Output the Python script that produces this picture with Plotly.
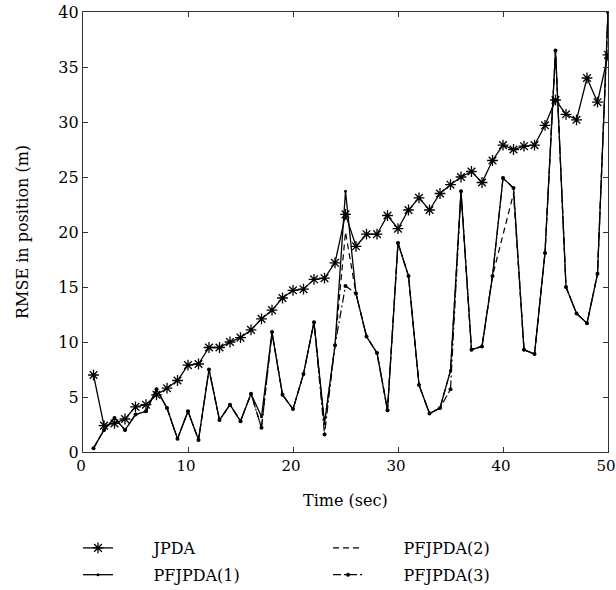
import plotly.graph_objects as go

time = list(range(1, 51))
jpda = [7.0, 2.4, 2.6, 3.0, 4.1, 4.3, 5.2, 5.8, 6.5, 7.9,
        8.0, 9.5, 9.5, 10.0, 10.4, 11.1, 12.1, 12.9, 14.0, 14.7,
        14.8, 15.7, 15.8, 17.2, 21.6, 18.7, 19.8, 19.8, 21.5, 20.3,
        22.0, 23.1, 22.0, 23.5, 24.3, 25.0, 25.5, 24.5, 26.5, 27.9,
        27.5, 27.8, 27.9, 29.7, 32.0, 30.7, 30.2, 34.0, 31.8, 36.1]
pf1 = [0.35, 2.0, 3.1, 2.0, 3.4, 3.7, 5.7, 4.0, 1.2, 3.7,
       1.1, 7.5, 2.9, 4.3, 2.8, 5.3, 3.2, 10.9, 5.2, 3.9,
       7.1, 11.8, 2.6, 9.7, 23.7, 14.4, 10.5, 9.0, 3.8, 19.0,
       16.0, 6.1, 3.5, 4.0, 7.4, 23.7, 9.3, 9.6, 16.0, 24.9,
       24.0, 9.3, 8.9, 18.1, 36.5, 15.0, 12.6, 11.7, 16.2, 40.0]
pf2 = [0.35, 2.0, 3.1, 2.0, 3.4, 3.7, 5.7, 4.0, 1.2, 3.7,
       1.1, 7.5, 2.9, 4.3, 2.8, 5.3, 2.2, 10.9, 5.2, 3.9,
       7.1, 11.8, 2.6, 9.7, 20.0, 14.4, 10.5, 9.0, 3.8, 19.0,
       16.0, 6.1, 3.5, 4.0, 7.4, 23.7, 9.3, 9.6, 16.0, 19.8,
       23.5, 9.3, 8.9, 18.1, 36.5, 15.0, 12.6, 11.7, 16.2, 40.0]
pf3 = [0.35, 2.0, 3.1, 2.0, 3.4, 3.7, 5.7, 4.0, 1.2, 3.7,
       1.1, 7.5, 2.9, 4.3, 2.8, 5.3, 2.2, 10.9, 5.2, 3.9,
       7.1, 11.8, 1.6, 9.7, 15.1, 14.4, 10.5, 9.0, 3.8, 19.0,
       16.0, 6.1, 3.5, 4.0, 5.7, 23.7, 9.3, 9.6, 16.0, 24.9,
       24.0, 9.3, 8.9, 18.1, 36.5, 15.0, 12.6, 11.7, 16.2, 40.0]
x_title = "Time (sec)"
y_title = "RMSE in position (m)"

FONT = "DejaVu Serif"
PAD = "\u00a0" * 7
fig = go.Figure()
fig.add_trace(go.Scatter(x=time, y=pf2, mode="lines", name=PAD + "PFJPDA(2)",
                         line=dict(color="black", width=1.2, dash="6px,4px"),
                         legend="legend2", legendgroup="a", legendrank=1))
fig.add_trace(go.Scatter(x=time, y=pf3, mode="lines+markers", name=PAD + "PFJPDA(3)",
                         line=dict(color="black", width=1.2, dash="8px,3px,2px,3px"),
                         marker=dict(size=4, color="black"),
                         legend="legend2", legendgroup="b", legendrank=2))
fig.add_trace(go.Scatter(x=time, y=pf1, mode="lines+markers", name=PAD + "PFJPDA(1)",
                         line=dict(color="black", width=1.3),
                         marker=dict(size=3, color="black"),
                         legend="legend", legendgroup="c", legendrank=2))
fig.add_trace(go.Scatter(x=time, y=jpda, mode="lines+markers", name=PAD + "JPDA",
                         line=dict(color="black", width=1.3),
                         marker=dict(symbol="asterisk-open", size=9,
                                     line=dict(color="black", width=1.3)),
                         legend="legend", legendgroup="d", legendrank=1))

axis_common = dict(showline=True, linecolor="#333", linewidth=1.2, mirror="ticks",
                   ticks="inside", ticklen=5, tickcolor="#333", showgrid=False,
                   zeroline=False, automargin=False)
fig.update_xaxes(range=[0, 50], tickvals=[0, 10, 20, 30, 40, 50],
                 ticklabeloverflow="allow", ticklabelshift=-2,
                 tickfont=dict(family=FONT, size=15, color="black"), **axis_common)
fig.update_yaxes(range=[0, 40], tickvals=[0, 5, 10, 15, 20, 25, 30, 35, 40],
                 tickfont=dict(family=FONT, size=16, color="black"), **axis_common)

fig.add_annotation(text=x_title, xref="paper", yref="paper", x=0.5, y=0,
                   yanchor="middle", yshift=-48, showarrow=False,
                   font=dict(family=FONT, size=16, color="black"))
fig.add_annotation(text=y_title, xref="paper", yref="paper", x=0, y=0.5,
                   xanchor="center", xshift=-61, textangle=-90, showarrow=False,
                   font=dict(family=FONT, size=16, color="black"))

leg_common = dict(font=dict(family=FONT, size=16, color="black"), bgcolor="rgba(0,0,0,0)",
                  itemwidth=30, tracegroupgap=3, yanchor="top", xanchor="left",
                  xref="container", yref="container",
                  traceorder="grouped", orientation="v")
fig.update_layout(
    width=616, height=590,
    margin=dict(l=83, r=8, t=12, b=138, autoexpand=False),
    plot_bgcolor="white", paper_bgcolor="white",
    showlegend=True,
    legend=dict(x=78 / 616, y=(590 - 531) / 590, **leg_common),
    legend2=dict(x=328 / 616, y=(590 - 531) / 590, **leg_common),
)
fig.write_html("out.html")
